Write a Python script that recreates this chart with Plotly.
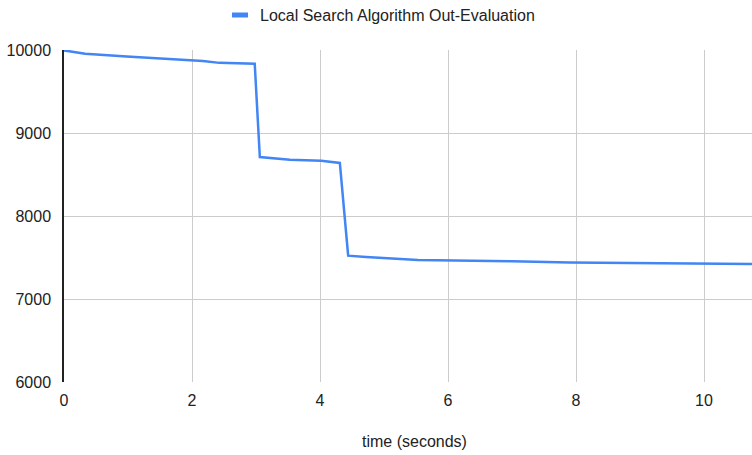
import plotly.graph_objects as go

# Data
time_s = [0, 0.33, 0.98, 2.01, 2.17, 2.43, 2.98, 3.06, 3.53, 4.02, 4.31, 4.44,
          4.72, 5.53, 6.0, 7.0, 7.9, 9.0, 10.0, 10.75]
evaluation = [9995, 9955, 9922, 9880, 9866, 9845, 9835, 8711, 8678, 8666, 8639, 7522,
              7506, 7470, 7466, 7455, 7440, 7432, 7426, 7422]
series_name = "Local Search Algorithm Out-Evaluation"
x_ticks = [0, 2, 4, 6, 8, 10]
y_ticks = [6000, 7000, 8000, 9000, 10000]

W, H = 752, 455
L, R, T, B = 64, 0, 50, 73
FONT = "Liberation Sans, Arial, sans-serif"
BLUE = "#4285F4"

fig = go.Figure()
fig.add_trace(go.Scatter(x=time_s, y=evaluation, mode="lines", name=series_name,
                         line=dict(color=BLUE, width=2.5), showlegend=False))

def px_x(p):
    return (p - L) / (W - L - R)

def px_y(p):
    return 1 - (p - T) / (H - T - B)

# manual legend: swatch + text
fig.add_shape(type="rect", xref="paper", yref="paper",
              x0=px_x(232), x1=px_x(248), y0=px_y(17.5), y1=px_y(12.5),
              fillcolor=BLUE, line=dict(width=0))
fig.add_annotation(text=series_name, xref="paper", yref="paper",
                   x=px_x(258), y=px_y(15), xanchor="left", yanchor="middle",
                   showarrow=False, font=dict(family=FONT, size=16, color="#222222"))
# x axis title
fig.add_annotation(text="time (seconds)", xref="paper", yref="paper",
                   x=px_x(414), y=px_y(441), xanchor="center", yanchor="middle",
                   showarrow=False, font=dict(family=FONT, size=16, color="#222222"))

fig.update_layout(
    width=W, height=H,
    margin=dict(l=L, r=R, t=T, b=B, pad=0),
    paper_bgcolor="white", plot_bgcolor="white",
    font=dict(family=FONT, size=16, color="#222222"),
    xaxis=dict(range=[0, 10.75], tickvals=x_ticks, ticktext=[str(v) for v in x_ticks],
               showgrid=True, gridcolor="#cccccc", gridwidth=1.3, zeroline=False,
               showline=False, ticks="", ticklen=0, ticklabelstandoff=7,
               tickfont=dict(size=16, color="#222222")),
    yaxis=dict(range=[6000, 10000], tickvals=y_ticks, ticktext=[str(v) for v in y_ticks],
               showgrid=True, gridcolor="#cccccc", gridwidth=1.3, zeroline=False,
               showline=True, linecolor="#222222", linewidth=1.5, ticks="",
               ticklabelstandoff=8, tickfont=dict(size=16, color="#222222")),
)

fig.write_html("out.html")
